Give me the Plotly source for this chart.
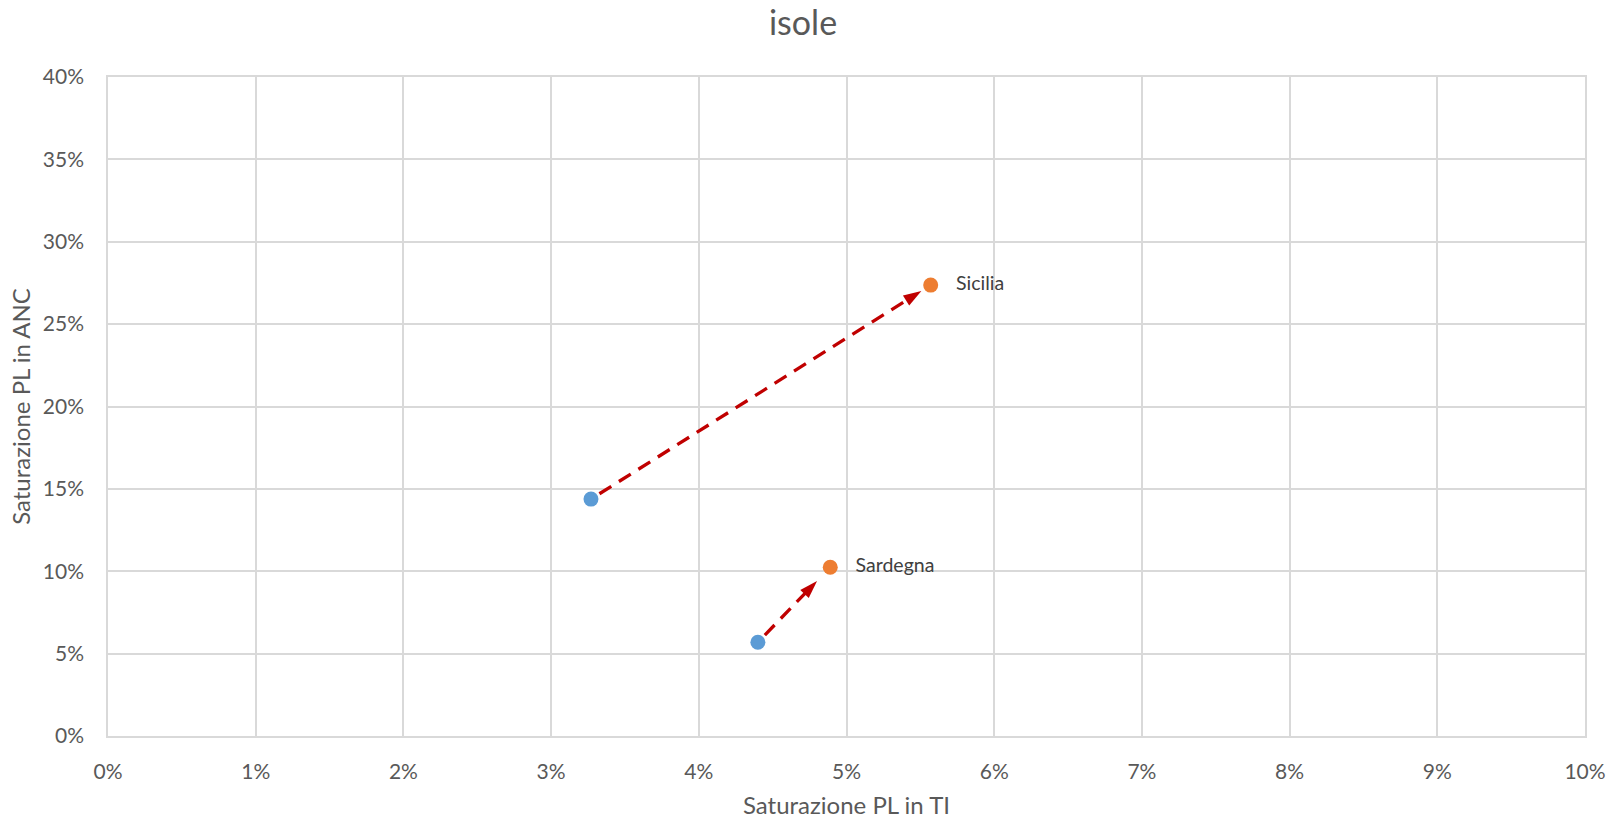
import math
import plotly.graph_objects as go

# Regional saturation values: start (blue) and end (orange) positions
regions = ["Sicilia", "Sardegna"]
ti_start = [0.0327, 0.0440]
anc_start = [0.1438, 0.0569]
ti_end = [0.0557, 0.0489]
anc_end = [0.2737, 0.1024]

x_ticks = [i / 100 for i in range(0, 11)]
y_ticks = [i / 100 for i in range(0, 41, 5)]

W, H = 1619, 819
M = dict(l=108, r=34, t=77, b=83)
X_RANGE = [0, 0.10]
Y_RANGE = [0, 0.40]
px_x = (W - M["l"] - M["r"]) / (X_RANGE[1] - X_RANGE[0])
px_y = (H - M["t"] - M["b"]) / (Y_RANGE[1] - Y_RANGE[0])

FONT = "Lato, 'Open Sans', sans-serif"
GRID = "#D9D9D9"
ARROW = "#C00000"
TIP_GAPS = [11.0, 19.0]  # pixels left between each arrow tip and its end marker

fig = go.Figure()

# Dashed arrows from start to end, stopping short of the end marker
for xs, ys, xe, ye, gap_tip in zip(ti_start, anc_start, ti_end, anc_end, TIP_GAPS):
    dx = (xe - xs) * px_x
    dy = (ye - ys) * px_y
    length = math.hypot(dx, dy)
    gap_line = gap_tip + 11.0   # line stops under the arrow head
    gap_start = 10.0
    fs = gap_start / length
    fl = (length - gap_line) / length
    ft = (length - gap_tip) / length
    fig.add_trace(go.Scatter(
        x=[xs + (xe - xs) * fs, xs + (xe - xs) * fl],
        y=[ys + (ye - ys) * fs, ys + (ye - ys) * fl],
        mode="lines",
        line=dict(color=ARROW, width=3.3, dash="14px,9px"),
        hoverinfo="skip", showlegend=False,
    ))
    # arrow head: two points so the marker angle follows the segment
    fig.add_trace(go.Scatter(
        x=[xs + (xe - xs) * fl, xs + (xe - xs) * ft],
        y=[ys + (ye - ys) * fl, ys + (ye - ys) * ft],
        mode="markers",
        marker=dict(symbol="arrow", size=[0, 19], color=ARROW,
                    angleref="previous", line=dict(width=0), opacity=1),
        hoverinfo="skip", showlegend=False,
    ))

fig.add_trace(go.Scatter(
    x=ti_start, y=anc_start, mode="markers",
    marker=dict(color="#5B9BD5", size=15, line=dict(width=0)),
    showlegend=False,
))
fig.add_trace(go.Scatter(
    x=ti_end, y=anc_end, mode="markers+text",
    text=["   " + r for r in regions], textposition="middle right",
    textfont=dict(family=FONT, size=19.5, color="#404040"),
    marker=dict(color="#ED7D31", size=15, line=dict(width=0)),
    showlegend=False,
))

axis_common = dict(
    showgrid=True, gridcolor=GRID, gridwidth=1.5,
    showline=True, linecolor=GRID, linewidth=1.5, mirror=True,
    zeroline=False, ticks="", tickformat=".0%", automargin=False,
    tickfont=dict(family=FONT, size=21, color="#595959"),
)

fig.update_layout(
    width=W, height=H,
    margin=M,
    paper_bgcolor="white", plot_bgcolor="white",
    title=dict(text="isole", x=0.496, xanchor="center", y=0.972, yanchor="middle",
               font=dict(family=FONT, size=34, color="#595959")),
    xaxis=dict(range=X_RANGE, tickvals=x_ticks, ticklabelstandoff=16,
               title=dict(text="Saturazione PL in TI", standoff=16,
                          font=dict(family=FONT, size=24, color="#595959")),
               **axis_common),
    yaxis=dict(range=Y_RANGE, tickvals=y_ticks, ticklabelstandoff=18,
               title=dict(text="Saturazione PL in ANC", standoff=5,
                          font=dict(family=FONT, size=24, color="#595959")),
               **axis_common),
)

fig.write_html("out.html")
